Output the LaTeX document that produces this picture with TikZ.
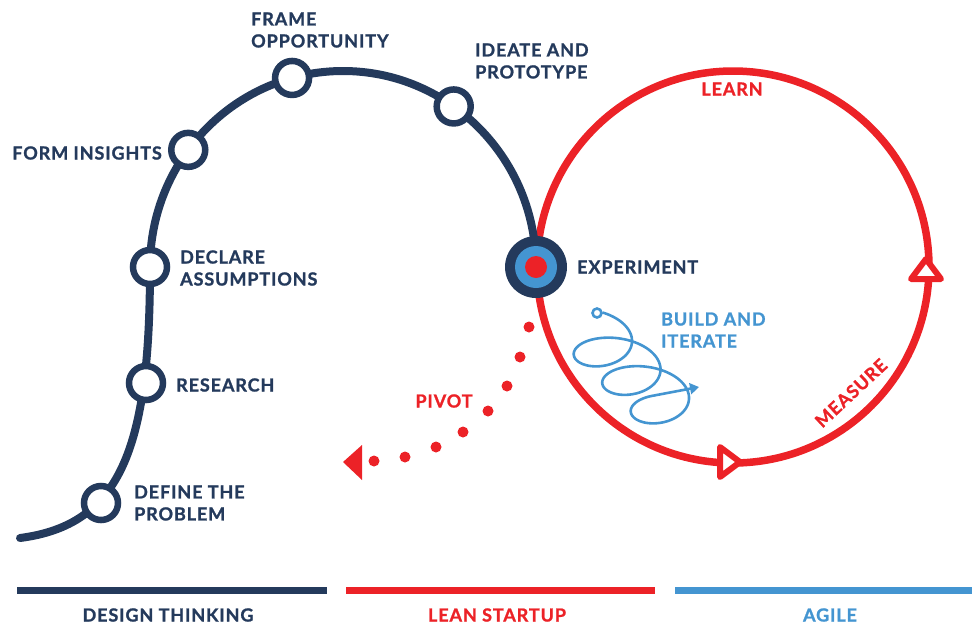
\documentclass[tikz,border=0pt]{standalone}
\usepackage{fontspec}
\setmainfont{Lato}[BoldFeatures={FakeBold=1.2}, LetterSpace=5]
\usetikzlibrary{calc,arrows.meta}
\definecolor{navy}{HTML}{243A5C}
\definecolor{rred}{HTML}{EC2227}
\definecolor{ablue}{HTML}{4495D1}
\begin{document}
\begin{tikzpicture}[x=1pt,y=-1pt,
  lbl/.style={font=\fontsize{18}{22}\selectfont\bfseries, text=navy, inner sep=0pt, align=left, anchor=west},
  stepc/.style={circle, draw=navy, fill=white, line width=6.5pt, minimum size=34pt, inner sep=0pt},
  bar/.style={line width=7pt},
  foot/.style={font=\fontsize{18}{22}\selectfont\bfseries, inner sep=0pt}]
\useasboundingbox (0,0) rectangle (972,625);
% centres
\coordinate (ac) at (343,267);
\coordinate (rc) at (733,267);
\coordinate (s0) at (20,538);
% red loop
\draw[rred, line width=7.5pt] (rc) circle[radius=196];
% navy path
\coordinate (dc) at ($(ac)+(180:193)$);
\draw[navy, line width=8pt, line cap=round] (s0) .. controls (120,525) and (150,450) .. (dc)
  arc[start angle=180, end angle=360, x radius=193, y radius=196];
% step circles
\node[stepc] (define) at (101,503) {};
\node[stepc] (research) at (146,383) {};
\node[stepc] (declare) at (dc) {};
\node[stepc] (form) at ($(ac)+({193*cos(216.7)},{196*sin(216.7)})$) {};
\node[stepc] (frame) at ($(ac)+({193*cos(254.7)},{196*sin(254.7)})$) {};
\node[stepc] (ideate) at ($(ac)+({193*cos(305)},{196*sin(305)})$) {};
% experiment
\node[circle, fill=navy, minimum size=62pt, inner sep=0pt] (exp) at (536,267) {};
\fill[ablue] (exp.center) circle[radius=21];
\fill[rred] (exp.center) circle[radius=11];
% triangles on loop
\draw[rred, line width=6pt, fill=white, line join=round] (926,259) -- (941,279) -- (911,279) -- cycle;
\draw[rred, line width=6pt, fill=white, line join=round] (740,462) -- (720,447) -- (720,477) -- cycle;
% pivot
\foreach \p in {(529,327),(520,357),(507,386),(488,411),(463,432),(436,447),(405,457),(374,461)}
  \fill[rred] \p circle[radius=5.5];
\coordinate (pv) at (343,462);
\fill[rred] (pv) -- (362,445) -- (362,480) -- cycle;
% build and iterate
\node[circle, draw=ablue, line width=2.6pt, minimum size=9pt, inner sep=0pt] (bs) at (597,313) {};
\coordinate (bend) at (699,387);
\draw[ablue, line width=2.6pt, -{Triangle[length=9pt,width=11pt]}]
  plot[domain=-70:960, samples=260, smooth] ({595.75+\x/360*28.5+36*cos(\x)}, {337.75+\x/360*28.5+21*sin(\x)})
  -- (bend);
% labels
\node[lbl] at (251,30) {FRAME\\OPPORTUNITY};
\node[lbl] at (475,61) {IDEATE AND\\PROTOTYPE};
\node[lbl, anchor=east] at (162,153) {FORM INSIGHTS};
\node[lbl] at (180,268) {DECLARE\\ASSUMPTIONS};
\node[lbl] at (176,385) {RESEARCH};
\node[lbl] at (134,503) {DEFINE THE\\PROBLEM};
\node[lbl] at (577,267) {EXPERIMENT};
\node[lbl, text=ablue] at (661,330) {BUILD AND\\ITERATE};
\node[lbl, text=rred, anchor=center] at (444,401) {PIVOT};
\node[lbl, text=rred, anchor=center] at (732,89) {LEARN};
\node[lbl, text=rred, anchor=center, rotate=43] at (851,393) {MEASURE};
% bottom bars
\draw[bar, navy] (17,590) -- (327,590);
\draw[bar, rred] (346,590) -- (655,590);
\draw[bar, ablue] (675,590) -- (972,590);
\node[foot, text=navy] at (168,615) {DESIGN THINKING};
\node[foot, text=rred] at (497,615) {LEAN STARTUP};
\node[foot, text=ablue] at (830,615) {AGILE};
\end{tikzpicture}
\end{document}
